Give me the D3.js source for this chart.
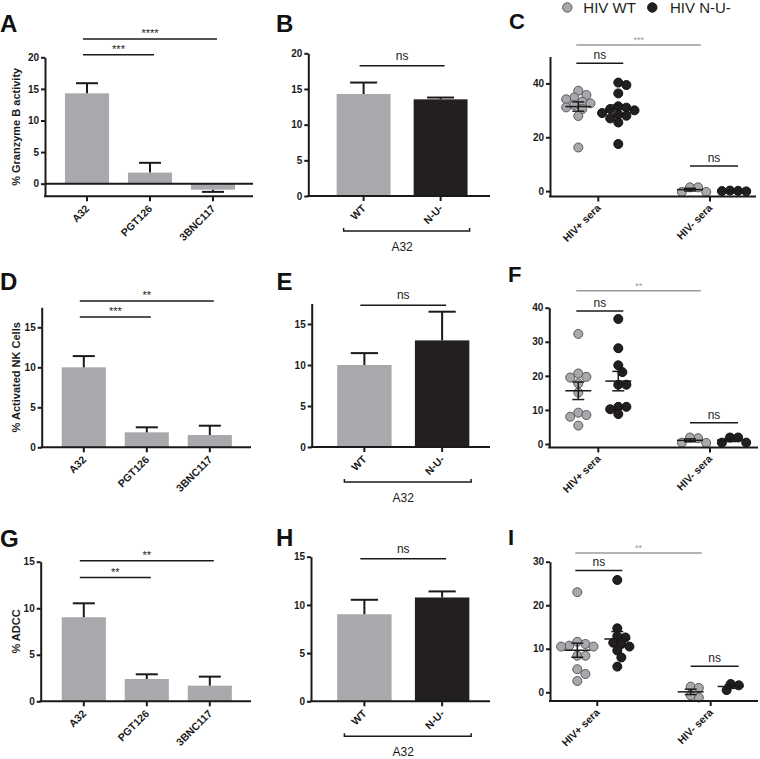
<!DOCTYPE html>
<html><head><meta charset="utf-8">
<script src="https://cdn.jsdelivr.net/npm/d3@7"></script>
<style>body{margin:0;background:#fff}</style>
</head><body><svg id="c" width="760" height="759"></svg>
<script>
// ---------------- DATA ----------------
const antibodies = ["A32", "PGT126", "3BNC117"];
const granzymeMean = [14.3, 1.75, -0.95];
const granzymeSem  = [1.6, 1.55, 0.35];
const nkMean = [10.0, 1.87, 1.53];
const nkSem  = [1.4, 0.63, 1.17];
const adccMean = [9.03, 2.4, 1.68];
const adccSem  = [1.5, 0.5, 0.97];

const variants = ["WT", "N-U-"];
const variantGroupLabel = "A32";
const granzymeVariantMean = [14.3, 13.55];
const granzymeVariantSem  = [1.6, 0.25];
const nkVariantMean = [10.0, 13.0];
const nkVariantSem  = [1.45, 3.5];
const adccVariantMean = [9.03, 10.77];
const adccVariantSem  = [1.5, 0.63];

const seraGroups = ["HIV+ sera", "HIV- sera"];
const legendLabels = ["HIV WT", "HIV N-U-"];
const gzbWtPos = [37.3, 35.7, 34.8, 34.1, 33.2, 32.6, 32.0, 31.1, 30.5, 27.9, 16.2];
const gzbNuPos = [40.3, 39.4, 36.3, 31.5, 31.0, 30.5, 30.0, 29.0, 28.5, 28.0, 27.0, 25.5, 17.5];
const gzbWtNeg = [1.4, -0.3, -0.3, 1.4];
const gzbNuNeg = [0.2, 0.0, -0.1, 0.1];
const nkWtPos = [32.3, 20.7, 19.7, 19.5, 17.8, 15.1, 9.2, 8.5, 8.0, 5.4];
const nkNuPos = [36.7, 28.1, 23.1, 21.1, 17.4, 17.4, 10.9, 10.9, 10.2, 8.8];
const nkWtNeg = [1.7, 0.3, 0.4, 1.9];
const nkNuNeg = [1.9, 0.4, 0.4, 1.9];
const adccWtPos = [23.0, 11.6, 11.1, 10.7, 10.5, 10.5, 8.4, 8.4, 5.3, 4.2, 2.6];
const adccNuPos = [25.8, 14.7, 12.9, 12.6, 11.4, 11.1, 10.5, 9.6, 8.0, 5.9];
const adccWtNeg = [1.3, -1.2, -0.7, 1.0];
const adccNuNeg = [1.9, 0.5, 1.6];

const yTitles = ["% Granzyme B activity", "% Activated NK Cells", "% ADCC"];
const panelLetters = ["A", "B", "C", "D", "E", "F", "G", "H", "I"];

// ---------------- STYLE ----------------
const FONT = "'Liberation Sans', Arial, Helvetica, sans-serif";
const GREY = "#a7a9ac", BLACK = "#231f20", INK = "#1a1a1a", SIGGREY = "#9a9a9a";

const svg = d3.select("#c");
svg.append("rect").attr("width", 760).attr("height", 759).attr("fill", "#fff");

function txt(g, x, y, s, o = {}) {
  return g.append("text").attr("x", x).attr("y", y).text(s)
    .attr("font-family", FONT).attr("font-size", o.size || 10)
    .attr("font-weight", o.bold ? "bold" : "normal")
    .attr("fill", o.fill || INK).attr("text-anchor", o.anchor || "middle");
}
function line(g, x1, y1, x2, y2, o = {}) {
  return g.append("line").attr("x1", x1).attr("y1", y1).attr("x2", x2).attr("y2", y2)
    .attr("stroke", o.stroke || INK).attr("stroke-width", o.w || 2);
}
function yAxis(g, y, x, ticks) {
  const ax = g.append("g").attr("transform", `translate(${x},0)`)
    .call(d3.axisLeft(y).tickValues(ticks).tickSize(4).tickPadding(2).tickSizeOuter(0));
  ax.select(".domain").attr("stroke", INK).attr("stroke-width", 2);
  ax.selectAll(".tick line").attr("stroke", INK).attr("stroke-width", 2);
  ax.selectAll(".tick text").attr("font-family", FONT).attr("font-size", 10)
    .attr("font-weight", "bold").attr("fill", INK);
}
function xLabels(g, positions, labels, axisY, dy) {
  positions.forEach((px, i) => {
    line(g, px, axisY, px, axisY + 5);
    g.append("text").text(labels[i])
      .attr("transform", `translate(${px + 3},${axisY + dy}) rotate(-45)`)
      .attr("font-family", FONT).attr("font-size", 10.5).attr("font-weight", "bold")
      .attr("fill", INK).attr("text-anchor", "end");
  });
}
function sig(g, x1, x2, yy, label, o = {}) {
  line(g, x1, yy, x2, yy, { stroke: o.stroke || INK, w: 1.5 });
  const star = label.indexOf("*") >= 0;
  txt(g, (x1 + x2) / 2, yy - (star ? 2 : (o.nsGap || 4)), label,
    { size: star ? (o.starSize || 10) : 12, fill: o.stroke || INK });
}
function letter(g, L, x, y, size) {
  txt(g, x, y, L, { size: size, bold: true, anchor: "start", fill: "#111" });
}

// ---------------- BAR PANELS ----------------
function barPanel(p) {
  const g = svg.append("g");
  const x = d3.scaleBand().domain(p.cats).range(p.band).paddingInner(0.3).paddingOuter(0.15);
  const y = d3.scaleLinear().domain(p.domain).range(p.yRange);
  const bw = x.bandwidth();
  g.selectAll("rect.bar").data(p.cats).join("rect").attr("class", "bar")
    .attr("x", d => x(d)).attr("width", bw)
    .attr("y", (d, i) => y(Math.max(0, p.means[i])))
    .attr("height", (d, i) => Math.abs(y(p.means[i]) - y(0)))
    .attr("fill", (d, i) => p.colors[i]);
  p.cats.forEach((c, i) => {
    const cx = x(c) + bw / 2, m = p.means[i], s = p.sems[i];
    const e = m >= 0 ? m + s : m - s;
    line(g, cx, y(m), cx, y(e));
    line(g, cx - bw / 4, y(e), cx + bw / 4, y(e));
  });
  if (p.domain[0] < 0) line(g, p.axisX, y(0), p.xEnd, y(0));
  const axisY = y(p.domain[0]);
  line(g, p.axisX - 1, axisY, p.xEnd, axisY);
  xLabels(g, p.cats.map(c => x(c) + bw / 2), p.cats, axisY, 13);
  yAxis(g, y, p.axisX, p.ticks);
  if (p.title) {
    g.append("text").text(p.title)
      .attr("transform", `translate(${p.titleX},${(y.range()[0] + y.range()[1]) / 2}) rotate(-90)`)
      .attr("font-family", FONT).attr("font-size", 11).attr("font-weight", "bold")
      .attr("fill", INK).attr("text-anchor", "middle").attr("dy", "0.35em");
  }
  p.sigs.forEach(s => {
    sig(g, x(s.from) + bw / 2 - 4, x(s.to) + bw / 2 + 4, y(s.level), s.label,
      { starSize: s.size, nsGap: 6 });
  });
  if (p.bracket) {
    const by = axisY + 35;
    const bx1 = x(p.cats[0]) + bw / 2 - 20, bx2 = x(p.cats[1]) + bw / 2 + 29;
    g.append("path").attr("d", `M${bx1},${by - 3}V${by}H${bx2}V${by - 3}`)
      .attr("fill", "none").attr("stroke", INK).attr("stroke-width", 1.5);
    txt(g, (x(p.cats[0]) + x(p.cats[1]) + bw) / 2, by + 19.5, p.bracket, { size: 12 });
  }
  letter(g, p.letter, p.letterX, p.letterY, 24);
}

// ---------------- SCATTER PANELS ----------------
function dodge(vals, y, r) {
  const order = vals.map((v, i) => i).sort((a, b) => vals[b] - vals[a]);
  const placed = [], off = new Array(vals.length);
  const sep = r * 1.55, step = r * 0.9;
  order.forEach(i => {
    const py = y(vals[i]);
    let chosen = 0;
    for (let k = 0; k < 12; k++) {
      const cands = k === 0 ? [0] : [k * step, -k * step];
      let ok = null;
      for (const c of cands) {
        if (placed.every(q => Math.hypot(q[0] - c, q[1] - py) >= sep)) { ok = c; break; }
      }
      if (ok !== null) { chosen = ok; break; }
    }
    placed.push([chosen, py]);
    off[i] = chosen;
  });
  return off;
}

function scatterPanel(p) {
  const g = svg.append("g");
  const x = d3.scalePoint().domain(seraGroups).range(p.pts);
  const y = d3.scaleLinear().domain(p.domain).range(p.yRange);
  const axisY = y(p.domain[0]);
  const offsets = [-20, 20];
  const fills = [GREY, BLACK], strokes = ["#58595b", "#111"];
  const r = 4.5;
  seraGroups.forEach((grp, ci) => {
    p.data[ci].forEach((vals, si) => {
      const cx = x(grp) + offsets[si];
      const offs = dodge(vals, y, r);
      g.selectAll(null).data(vals).join("circle")
        .attr("cx", (d, i) => cx + offs[i]).attr("cy", d => y(d)).attr("r", r)
        .attr("fill", fills[si]).attr("stroke", strokes[si]).attr("stroke-width", 1);
    });
  });
  seraGroups.forEach((grp, ci) => {
    p.data[ci].forEach((vals, si) => {
      const cx = x(grp) + offsets[si];
      const m = d3.mean(vals), se = d3.deviation(vals) / Math.sqrt(vals.length);
      line(g, cx - 13, y(m), cx + 13, y(m), { w: 1.5 });
      line(g, cx, y(m - se), cx, y(m + se), { w: 1.5 });
      line(g, cx - 6, y(m - se), cx + 6, y(m - se), { w: 1.5 });
      line(g, cx - 6, y(m + se), cx + 6, y(m + se), { w: 1.5 });
    });
  });
  line(g, p.axisX - 1, axisY, p.xEnd, axisY);
  xLabels(g, seraGroups.map(s => x(s)), seraGroups, axisY, 12);
  yAxis(g, y, p.axisX, p.ticks);
  const xp = x(seraGroups[0]), xn = x(seraGroups[1]);
  sig(g, xp - 22, xn - 9, y(p.grayLevel), p.grayLabel, { stroke: SIGGREY, starSize: 9 });
  sig(g, xp - 22, xp + 25, y(p.nsPos), "ns", { nsGap: 4 });
  sig(g, xn - 20, xn + 28, y(p.nsNeg), "ns", { nsGap: 4 });
  letter(g, p.letter, p.letterX, p.letterY, 22);
}

// ---------------- PANELS ----------------
barPanel({ cats: antibodies, means: granzymeMean, sems: granzymeSem, colors: [GREY, GREY, GREY],
  domain: [-2, 20], yRange: [196.3, 57.3], ticks: [0, 5, 10, 15, 20], band: [55.5, 244.5],
  axisX: 45, xEnd: 253, title: yTitles[0], titleX: 16,
  sigs: [{ from: "A32", to: "3BNC117", level: 22.9, label: "****", size: 11 },
         { from: "A32", to: "PGT126", level: 20.4, label: "***", size: 11 }],
  letter: panelLetters[0], letterX: 0, letterY: 32 });
barPanel({ cats: variants, means: granzymeVariantMean, sems: granzymeVariantSem, colors: [GREY, BLACK],
  domain: [0, 20], yRange: [196, 53.3], ticks: [0, 5, 10, 15, 20], band: [325.1, 479.1],
  axisX: 308.3, xEnd: 490, sigs: [{ from: "WT", to: "N-U-", level: 18.25, label: "ns" }],
  bracket: variantGroupLabel, letter: panelLetters[1], letterX: 276, letterY: 32 });
scatterPanel({ data: [[gzbWtPos, gzbNuPos], [gzbWtNeg, gzbNuNeg]],
  domain: [-2, 50], yRange: [196.5, 56.5], ticks: [0, 20, 40], pts: [598.3, 710],
  axisX: 550, xEnd: 756, grayLevel: 54.3, grayLabel: "***", nsPos: 47.5, nsNeg: 9.3,
  letter: panelLetters[2], letterX: 509, letterY: 29 });

barPanel({ cats: antibodies, means: nkMean, sems: nkSem, colors: [GREY, GREY, GREY],
  domain: [0, 17.5], yRange: [447.3, 307.3], ticks: [0, 5, 10, 15], band: [52.3, 241.3],
  axisX: 41.7, xEnd: 251, title: yTitles[1], titleX: 16,
  sigs: [{ from: "A32", to: "3BNC117", level: 18.3, label: "**", size: 11 },
         { from: "A32", to: "PGT126", level: 16.3, label: "***", size: 11 }],
  letter: panelLetters[3], letterX: 0, letterY: 290 });
barPanel({ cats: variants, means: nkVariantMean, sems: nkVariantSem, colors: [GREY, BLACK],
  domain: [0, 17.5], yRange: [447, 303.5], ticks: [0, 5, 10, 15], band: [325.5, 481],
  axisX: 311.7, xEnd: 490, sigs: [{ from: "WT", to: "N-U-", level: 17.3, label: "ns" }],
  bracket: variantGroupLabel, letter: panelLetters[4], letterX: 276.5, letterY: 290 });
scatterPanel({ data: [[nkWtPos, nkNuPos], [nkWtNeg, nkNuNeg]],
  domain: [-1, 40], yRange: [447.4, 307.7], ticks: [0, 10, 20, 30, 40], pts: [598.3, 710],
  axisX: 549.3, xEnd: 758, grayLevel: 45, grayLabel: "**", nsPos: 39, nsNeg: 6.2,
  letter: panelLetters[5], letterX: 508, letterY: 281.7 });

barPanel({ cats: antibodies, means: adccMean, sems: adccSem, colors: [GREY, GREY, GREY],
  domain: [0, 15], yRange: [701.3, 561.7], ticks: [0, 5, 10, 15], band: [52.3, 241.3],
  axisX: 40.7, xEnd: 251, title: yTitles[2], titleX: 16,
  sigs: [{ from: "A32", to: "3BNC117", level: 15.1, label: "**", size: 11 },
         { from: "A32", to: "PGT126", level: 13.3, label: "**", size: 11 }],
  letter: panelLetters[6], letterX: 0, letterY: 546.5 });
barPanel({ cats: variants, means: adccVariantMean, sems: adccVariantSem, colors: [GREY, BLACK],
  domain: [0, 15], yRange: [701.3, 556.7], ticks: [0, 5, 10, 15], band: [325.5, 481],
  axisX: 311, xEnd: 490, sigs: [{ from: "WT", to: "N-U-", level: 14.8, label: "ns" }],
  bracket: variantGroupLabel, letter: panelLetters[7], letterX: 276, letterY: 546 });
scatterPanel({ data: [[adccWtPos, adccNuPos], [adccWtNeg, adccNuNeg]],
  domain: [-2, 30], yRange: [701, 561.7], ticks: [0, 10, 20, 30], pts: [597.3, 710.7],
  axisX: 550, xEnd: 758, grayLevel: 32, grayLabel: "**", nsPos: 28, nsNeg: 6.0,
  letter: panelLetters[8], letterX: 508, letterY: 545 });

// ---------------- LEGEND ----------------
const lg = svg.append("g");
[[567.3, GREY, "#58595b", 583.3], [652.3, BLACK, "#111", 670]].forEach((d, i) => {
  lg.append("circle").attr("cx", d[0]).attr("cy", 7.5).attr("r", 4.7)
    .attr("fill", d[1]).attr("stroke", d[2]).attr("stroke-width", 1);
  txt(lg, d[3], 13.3, legendLabels[i], { size: 15, anchor: "start", fill: "#231f20" });
});
</script></body></html>
